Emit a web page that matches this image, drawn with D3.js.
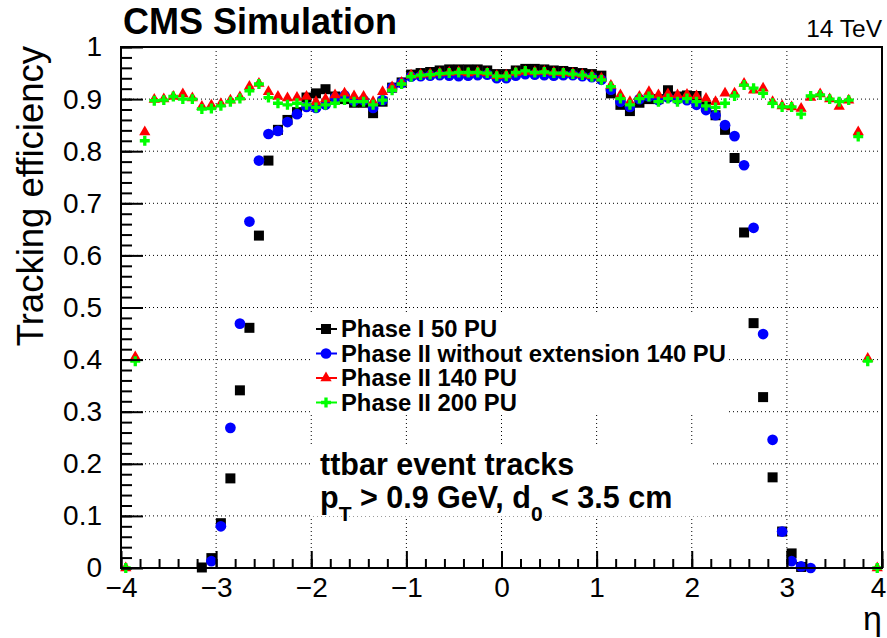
<!DOCTYPE html>
<html lang="en">
<head>
<meta charset="UTF-8">
<title>Tracking efficiency vs eta</title>
<script src="https://d3js.org/d3.v7.min.js"></script>
<style>
    body { margin: 0; background: #fff; }
    text { font-family: "Liberation Sans", Arial, Helvetica, sans-serif; fill: #000; }
    .grid line { stroke: #000; stroke-width: 1; stroke-dasharray: 1,3; }
</style>
</head>
<body>
<svg width="887" height="638"></svg>
<script>
    // eta bin centres
    const eta = [-3.95,-3.85,-3.75,-3.65,-3.55,-3.45,-3.35,-3.25,-3.15,-3.05,-2.95,-2.85,-2.75,-2.65,-2.55,-2.45,-2.35,-2.25,-2.15,-2.05,
        -1.95,-1.85,-1.75,-1.65,-1.55,-1.45,-1.35,-1.25,-1.15,-1.05,-0.95,-0.85,-0.75,-0.65,-0.55,-0.45,-0.35,-0.25,-0.15,-0.05,
        0.05,0.15,0.25,0.35,0.45,0.55,0.65,0.75,0.85,0.95,1.05,1.15,1.25,1.35,1.45,1.55,1.65,1.75,1.85,1.95,
        2.05,2.15,2.25,2.35,2.45,2.55,2.65,2.75,2.85,2.95,3.05,3.15,3.25,3.35,3.45,3.55,3.65,3.75,3.85,3.95];

    // Phase I 50 PU
    const phase1_50 = [null,null,null,null,null,null,null,null,
        0.001,0.019,0.086,0.172,0.341,0.461,0.638,0.782, 0.841,0.860,0.875,0.903,0.911,0.919,0.905,0.900,
        0.893,0.893,0.873,0.895,0.922,0.932,0.947,0.950, 0.952,0.955,0.957,0.957,0.957,0.957,0.955,0.948,
        0.948,0.955,0.958,0.958,0.957,0.955,0.954,0.952, 0.950,0.948,0.945,0.911,0.889,0.877,0.893,0.900,
        0.900,0.917,0.905,0.907,0.906,0.886,0.869,0.841, 0.787,0.644,0.470,0.328,0.174,0.070,0.028,0.002,
        null,null,null,null,null,null,null,null];

    // Phase II without extension 140 PU
    const phase2_noext_140 = [null,null,null,null,null,null,null,null,null,
        0.013,0.080,0.269,0.469,0.665,0.782,0.833, 0.839,0.856,0.871,0.885,0.883,0.889,0.903,0.907,
        0.897,0.898,0.883,0.898,0.922,0.931,0.943,0.944, 0.945,0.946,0.945,0.944,0.945,0.946,0.947,0.940,
        0.940,0.945,0.948,0.947,0.946,0.945,0.946,0.946, 0.944,0.942,0.937,0.918,0.895,0.885,0.900,0.905,
        0.898,0.903,0.900,0.898,0.889,0.879,0.869,0.850, 0.829,0.773,0.653,0.449,0.246,0.070,0.013,0.003,
        0.000,null,null,null,null,null,null,null];

    // Phase II 140 PU
    const phase2_140 = [0.0,0.405,0.837,0.899,0.900,0.905,0.910,0.902, 0.886,0.888,0.891,0.898,0.904,0.924,0.930,0.914,
        0.905,0.902,0.903,0.905,0.895,0.900,0.908,0.911, 0.906,0.905,0.895,0.914,0.923,0.932,0.946,0.947,
        0.948,0.950,0.951,0.952,0.950,0.952,0.950,0.945,
        0.946,0.951,0.953,0.952,0.953,0.951,0.950,0.949, 0.947,0.945,0.940,0.926,0.908,0.895,0.905,0.914,
        0.908,0.910,0.908,0.909,0.906,0.901,0.895,0.911, 0.911,0.930,0.917,0.921,0.895,0.887,0.885,0.882,
        0.903,0.910,0.900,0.886,0.898,0.837,0.402,0.0];

    // Phase II 200 PU
    const phase2_200 = [0.0,0.397,0.820,0.897,0.898,0.905,0.900,0.900, 0.881,0.882,0.887,0.895,0.901,0.916,0.929,0.903,
        0.892,0.889,0.892,0.889,0.884,0.889,0.892,0.898, 0.895,0.895,0.889,0.898,0.917,0.929,0.943,0.946,
        0.947,0.949,0.950,0.951,0.951,0.951,0.950,0.944,
        0.944,0.951,0.954,0.951,0.952,0.950,0.950,0.948, 0.946,0.943,0.937,0.924,0.901,0.889,0.901,0.905,
        0.895,0.901,0.895,0.901,0.895,0.887,0.884,0.892, 0.906,0.927,0.921,0.911,0.892,0.885,0.885,0.871,
        0.906,0.908,0.900,0.895,0.898,0.828,0.397,0.0];

    const xTicks = [-4, -3, -2, -1, 0, 1, 2, 3, 4];
    const yTicks = [0, 0.1, 0.2, 0.3, 0.4, 0.5, 0.6, 0.7, 0.8, 0.9, 1];

    const series = [
        { name: "Phase I 50 PU", values: phase1_50, color: "#000000", symbol: d3.symbolSquare, size: 100 },
        { name: "Phase II without extension 140 PU", values: phase2_noext_140, color: "#0000ff", symbol: d3.symbolCircle, size: 90 },
        { name: "Phase II 140 PU", values: phase2_140, color: "#ff0000", symbol: d3.symbolTriangle, size: 55 },
        { name: "Phase II 200 PU", values: phase2_200, color: "#00ff00", symbol: d3.symbolCross, size: 55 }
    ];

    const svg = d3.select("svg");
    const frame = { left: 121, right: 882, top: 47, bottom: 568 };

    const x = d3.scaleLinear().domain([-4, 4]).range([frame.left, frame.right]);
    const y = d3.scaleLinear().domain([0, 1]).range([frame.bottom, frame.top]);

    // grid
    const grid = svg.append("g").attr("class", "grid");
    grid.selectAll(".gx").data(xTicks.slice(1, -1)).enter().append("line")
        .attr("x1", d => x(d)).attr("x2", d => x(d))
        .attr("y1", frame.top).attr("y2", frame.bottom);
    grid.selectAll(".gy").data(yTicks.slice(1, -1)).enter().append("line")
        .attr("y1", d => y(d)).attr("y2", d => y(d))
        .attr("x1", frame.left).attr("x2", frame.right);

    // legend and label boxes hide the grid behind them
    svg.append("rect").attr("x", 310).attr("y", 314).attr("width", 418).attr("height", 101).attr("fill", "#fff");
    svg.append("rect").attr("x", 310).attr("y", 445).attr("width", 403).attr("height", 71).attr("fill", "#fff");

    // data points
    const plot = svg.append("g");
    series.forEach(s => {
        const pts = eta.map((e, i) => ({ e, v: s.values[i] })).filter(d => d.v !== null);
        plot.append("g").selectAll("path").data(pts).enter().append("path")
            .attr("d", d3.symbol().type(s.symbol).size(s.size))
            .attr("transform", d => `translate(${x(d.e)},${y(d.v)})`)
            .attr("fill", s.color);
    });

    // axes
    const xAxis = svg.append("g").attr("transform", `translate(0,${frame.bottom})`)
        .call(d3.axisBottom(x).tickValues(xTicks).tickSize(-17).tickPadding(9));
    svg.append("g").attr("transform", `translate(0,${frame.bottom})`)
        .call(d3.axisBottom(x).tickValues(d3.range(-4, 4.001, 0.2)).tickSize(-9).tickFormat(""));
    const yAxis = svg.append("g").attr("transform", `translate(${frame.left},0)`)
        .call(d3.axisLeft(y).tickValues(yTicks).tickSize(-22).tickPadding(19).tickFormat(d => String(+d.toFixed(1))));
    svg.append("g").attr("transform", `translate(${frame.left},0)`)
        .call(d3.axisLeft(y).tickValues(d3.range(0, 1.0001, 0.02)).tickSize(-11).tickFormat(""));

    svg.selectAll(".domain").remove();
    svg.selectAll(".tick line").attr("stroke", "#000").attr("stroke-width", 2);
    xAxis.selectAll("text").style("font-size", "28px").attr("fill", "#000")
        .attr("dx", d => d === 4 ? -4 : 0);
    yAxis.selectAll("text").style("font-size", "28px").attr("fill", "#000");

    // frame
    svg.append("rect")
        .attr("x", frame.left).attr("y", frame.top)
        .attr("width", frame.right - frame.left).attr("height", frame.bottom - frame.top)
        .attr("fill", "none").attr("stroke", "#000").attr("stroke-width", 2);

    // titles
    svg.append("text").attr("transform", "translate(43,46) rotate(-90)")
        .attr("text-anchor", "end").style("font-size", "36.5px").text("Tracking efficiency");
    svg.append("text").attr("x", 882).attr("y", 630).attr("text-anchor", "end")
        .style("font-size", "34px").text("η");
    svg.append("text").attr("x", 123).attr("y", 34).style("font-size", "36px")
        .style("font-weight", "bold").text("CMS Simulation");
    svg.append("text").attr("x", 882).attr("y", 37).attr("text-anchor", "end")
        .style("font-size", "24.5px").text("14 TeV");

    // legend
    const legend = svg.append("g");
    series.forEach((s, i) => {
        const cy = 329 + i * 24.5;
        legend.append("line").attr("x1", 316).attr("x2", 337).attr("y1", cy).attr("y2", cy)
            .attr("stroke", s.color).attr("stroke-width", 2);
        legend.append("path").attr("d", d3.symbol().type(s.symbol).size(s.size))
            .attr("transform", `translate(326,${cy})`).attr("fill", s.color);
        legend.append("text").attr("x", 341).attr("y", cy + 8)
            .style("font-size", "23.8px").style("font-weight", "bold").text(s.name);
    });

    // selection text
    const info = svg.append("g").style("font-weight", "bold").style("font-size", "30.5px");
    info.append("text").attr("x", 320).attr("y", 475).text("ttbar event tracks");
    const line2 = info.append("text").attr("x", 320).attr("y", 508);
    line2.append("tspan").text("p");
    line2.append("tspan").attr("dy", 13).style("font-size", "21px").text("T");
    line2.append("tspan").attr("dy", -13).text(" > 0.9 GeV,  d");
    line2.append("tspan").attr("dy", 13).style("font-size", "21px").text("0");
    line2.append("tspan").attr("dy", -13).text(" < 3.5 cm");
</script>
</body>
</html>
